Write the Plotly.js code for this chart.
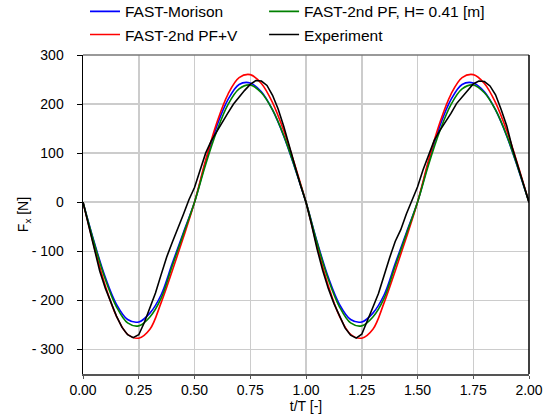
<!DOCTYPE html>
<html>
<head>
<meta charset="utf-8">
<script src="https://cdn.plot.ly/plotly-3.0.1.min.js"></script>
<style>html,body{margin:0;padding:0;background:#fff;}#chart{width:556px;height:417px;}</style>
</head>
<body>
<div id="chart"></div>
<script>
// time axis t/T (step 0.05 for model curves, 0.025 for experiment)
const tModel = [0,0.05,0.1,0.15,0.2,0.25,0.3,0.35,0.4,0.45,0.5,0.55,0.6,0.65,0.7,0.75,0.8,0.85,0.9,0.95,1.0,
  1.05,1.1,1.15,1.2,1.25,1.3,1.35,1.4,1.45,1.5,1.55,1.6,1.65,1.7,1.75,1.8,1.85,1.9,1.95,2.0];
const morison = [0,-81,-153,-208,-239,-244,-226,-189,-125,-62,0,82,155,209,240,243,225,188,135,70,0,
  -81,-153,-208,-239,-244,-226,-189,-125,-62,0,82,155,209,240,243,225,188,135,70,0];
const pfV = [0,-90,-170,-232,-269,-277,-259,-205,-140,-72,0,86,162,220,254,260,242,203,146,76,0,
  -90,-170,-232,-269,-277,-259,-205,-140,-72,0,86,162,220,254,260,242,203,146,76,0];
const pf2 = [0,-83,-157,-213,-246,-252,-234,-196,-130,-65,0,77,145,199,231,239,223,188,136,71,0,
  -83,-157,-213,-246,-252,-234,-196,-130,-65,0,77,145,199,231,239,223,188,136,71,0];
const tExp = [0,0.025,0.05,0.075,0.1,0.125,0.15,0.175,0.2,0.225,0.25,0.275,0.3,0.325,0.35,0.375,0.4,0.425,0.45,0.475,
  0.5,0.525,0.55,0.575,0.6,0.625,0.65,0.675,0.7,0.725,0.75,0.775,0.8,0.825,0.85,0.875,0.9,0.925,0.95,0.975,
  1.0,1.025,1.05,1.075,1.1,1.125,1.15,1.175,1.2,1.225,1.25,1.275,1.3,1.325,1.35,1.375,1.4,1.425,1.45,1.475,
  1.5,1.525,1.55,1.575,1.6,1.625,1.65,1.675,1.7,1.725,1.75,1.775,1.8,1.825,1.85,1.875,1.9,1.925,1.95,1.975,2.0];
const experiment = [0,-45,-95,-140,-175,-205,-232,-255,-270,-276,-270,-245,-215,-185,-148,-112,-82,-55,-25,5,
  30,65,100,125,145,162,182,200,215,228,240,248,247,238,218,190,155,112,75,35,
  0,-46,-96,-139,-176,-206,-231,-256,-271,-277,-269,-243,-214,-186,-147,-113,-80,-56,-24,4,
  31,66,98,126,146,163,181,201,214,229,241,247,246,237,219,189,156,111,74,36,0];
const yTickVals = [300,200,100,0,-100,-200,-300];
const yTickText = ["300","200","100","0","- 100","- 200","- 300"];
const xTickVals = [0,0.25,0.5,0.75,1.0,1.25,1.5,1.75,2.0];
const xTickText = ["0.00","0.25","0.50","0.75","1.00","1.25","1.50","1.75","2.00"];

const fam = "Liberation Sans, Arial, sans-serif";
const legFont = {family: fam, size: 15.5, color: "#000"};
const traces = [
  {x: tModel, y: morison, name: "FAST-Morison", mode: "lines", line: {color: "#0000ff", width: 1.6, shape: "spline"}, legend: "legend"},
  {x: tModel, y: pfV, name: "FAST-2nd PF+V", mode: "lines", line: {color: "#ff0000", width: 1.6, shape: "spline"}, legend: "legend"},
  {x: tModel, y: pf2, name: "FAST-2nd PF, H= 0.41 [m]", mode: "lines", line: {color: "#008000", width: 1.6, shape: "spline"}, legend: "legend2"},
  {x: tExp, y: experiment, name: "Experiment", mode: "lines", line: {color: "#000000", width: 1.6}, legend: "legend2"}
];
const layout = {
  width: 556, height: 417,
  margin: {l: 83, r: 27, t: 55, b: 43, autoexpand: false},
  paper_bgcolor: "#fff", plot_bgcolor: "#fff",
  font: {family: fam, size: 14, color: "#000"},
  showlegend: true,
  legend: {orientation: "v", x: 0.0045, xanchor: "left", y: 1.01, yanchor: "bottom",
    font: legFont, bgcolor: "rgba(0,0,0,0)", tracegroupgap: 0},
  legend2: {orientation: "v", x: 0.406, xanchor: "left", y: 1.01, yanchor: "bottom",
    font: legFont, bgcolor: "rgba(0,0,0,0)", tracegroupgap: 0},
  xaxis: {range: [0, 2], tickvals: xTickVals, ticktext: xTickText, showgrid: true, gridcolor: "#cccccc", gridwidth: 1.5,
    zeroline: false, showline: true, linecolor: "#555", linewidth: 1.5, ticks: "outside", ticklen: 3, tickcolor: "#555",
    ticklabelstandoff: 0,
    title: {text: "t/T [-]", font: {size: 14}, standoff: 0}, tickfont: {size: 14}},
  yaxis: {range: [-350, 300], tickvals: yTickVals, ticktext: yTickText, showgrid: true, gridcolor: "#cccccc", gridwidth: 1.5,
    zeroline: false, showline: true, linecolor: "#000", linewidth: 1.5, ticks: "outside", ticklen: 5, tickcolor: "#000",
    ticklabelstandoff: 10,
    title: {text: "F<sub>x</sub> [N]", font: {size: 14}, standoff: 0}, tickfont: {size: 14}},
  shapes: [
    {type: "line", xref: "paper", yref: "paper", x0: 0, x1: 1, y0: 1, y1: 1, line: {color: "#777", width: 1.5}},
    {type: "line", xref: "paper", yref: "paper", x0: 1, x1: 1, y0: 0, y1: 1, line: {color: "#000", width: 1.5}}
  ]
};
Plotly.newPlot("chart", traces, layout, {displayModeBar: false, staticPlot: true});
</script>
</body>
</html>
